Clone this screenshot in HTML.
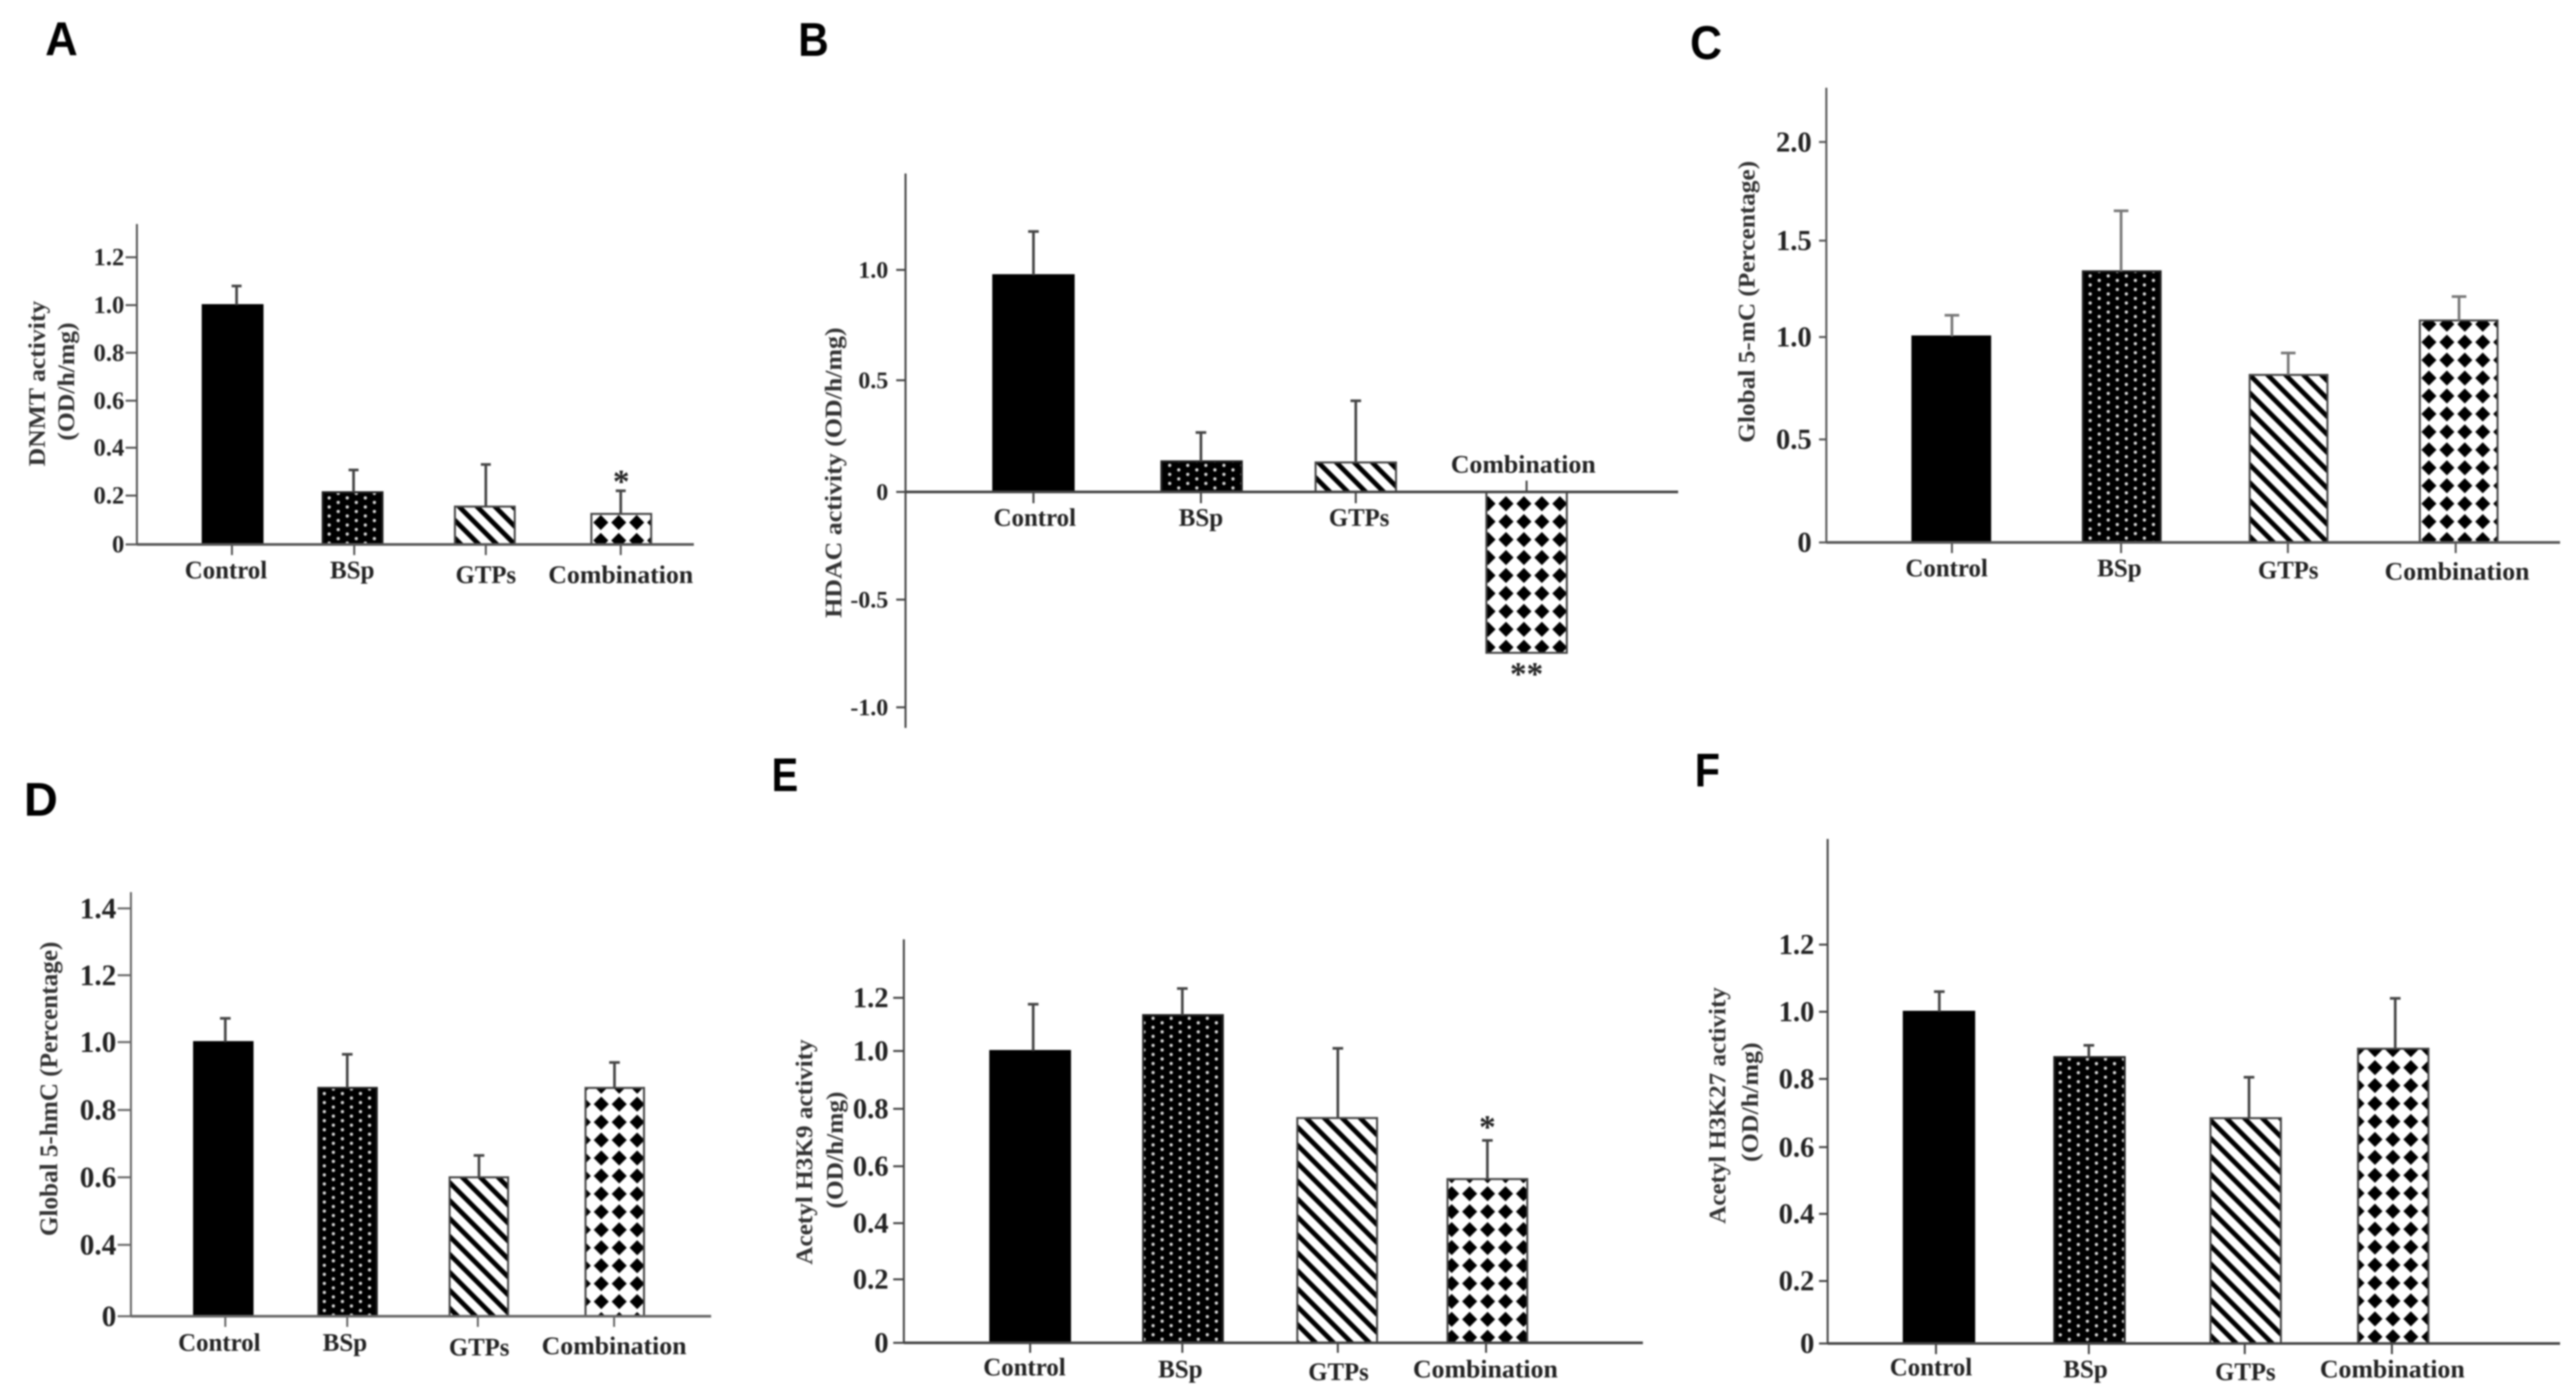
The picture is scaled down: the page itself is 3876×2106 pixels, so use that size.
<!DOCTYPE html>
<html lang="en">
<head>
<meta charset="utf-8">
<title>Epigenetic activity bar charts</title>
<style>
html,body{margin:0;padding:0;background:#fff;width:3876px;height:2106px;overflow:hidden}
#figure{position:absolute;left:0;top:0;filter:blur(1.2px)}
text{font-family:"Liberation Serif",serif;font-weight:bold;fill:#222}
.letter{font-family:"Liberation Sans",sans-serif;font-size:71px;fill:#000}
.ttl{fill:#333}
</style>
</head>
<body>
<svg id="figure" xmlns="http://www.w3.org/2000/svg" width="3876" height="2106" viewBox="0 0 3876 2106">
  <defs id="patterns"></defs>

  <g id="panel-a">
    <text class="letter" x="68" y="83" textLength="49" lengthAdjust="spacingAndGlyphs">A</text>
    <text class="ttl" transform="rotate(-90 67.5 577)" x="67.5" y="577" text-anchor="middle" font-size="36" textLength="249" lengthAdjust="spacingAndGlyphs">DNMT activity</text>
    <text class="ttl" transform="rotate(-90 111.5 574)" x="111.5" y="574" text-anchor="middle" font-size="36" textLength="178" lengthAdjust="spacingAndGlyphs">(OD/h/mg)</text>
  </g>

  <g id="panel-b">
    <text class="letter" x="1201" y="84" textLength="46" lengthAdjust="spacingAndGlyphs">B</text>
    <text class="ttl" transform="rotate(-90 1266 711)" x="1266" y="711" text-anchor="middle" font-size="36" textLength="437" lengthAdjust="spacingAndGlyphs">HDAC activity (OD/h/mg)</text>
  </g>

  <g id="panel-c">
    <text class="letter" x="2543" y="89" textLength="48" lengthAdjust="spacingAndGlyphs">C</text>
    <text class="ttl" transform="rotate(-90 2640 454)" x="2640" y="454" text-anchor="middle" font-size="36" textLength="424" lengthAdjust="spacingAndGlyphs">Global 5-mC (Percentage)</text>
  </g>

  <g id="panel-d">
    <text class="letter" x="36" y="1227" textLength="51" lengthAdjust="spacingAndGlyphs">D</text>
    <text class="ttl" transform="rotate(-90 86 1638)" x="86" y="1638" text-anchor="middle" font-size="38" textLength="443" lengthAdjust="spacingAndGlyphs">Global 5-hmC (Percentage)</text>
  </g>

  <g id="panel-e">
    <text class="letter" x="1161" y="1190" textLength="40" lengthAdjust="spacingAndGlyphs">E</text>
    <text class="ttl" transform="rotate(-90 1222 1733)" x="1222" y="1733" text-anchor="middle" font-size="36" textLength="339" lengthAdjust="spacingAndGlyphs">Acetyl H3K9 activity</text>
    <text class="ttl" transform="rotate(-90 1268 1730)" x="1268" y="1730" text-anchor="middle" font-size="36" textLength="176" lengthAdjust="spacingAndGlyphs">(OD/h/mg)</text>
  </g>

  <g id="panel-f">
    <text class="letter" x="2550" y="1183" textLength="38" lengthAdjust="spacingAndGlyphs">F</text>
    <text class="ttl" transform="rotate(-90 2596 1663)" x="2596" y="1663" text-anchor="middle" font-size="36" textLength="356" lengthAdjust="spacingAndGlyphs">Acetyl H3K27 activity</text>
    <text class="ttl" transform="rotate(-90 2645 1658)" x="2645" y="1658" text-anchor="middle" font-size="36" textLength="180" lengthAdjust="spacingAndGlyphs">(OD/h/mg)</text>
  </g>
</svg>

<script>
// ---------- chart data ----------
const categories = ["Control", "BSp", "GTPs", "Combination"];

const aMeans = [1.0, 0.214, 0.155, 0.125];
const aErrors = [0.08, 0.093, 0.175, 0.095];
const aTicks = [0, 0.2, 0.4, 0.6, 0.8, 1.0, 1.2];
const aTickLabels = ["0", "0.2", "0.4", "0.6", "0.8", "1.0", "1.2"];

const bMeans = [0.976, 0.137, 0.132, -0.747];
const bErrors = [0.198, 0.129, 0.276, 0];
const bTicks = [-1.0, -0.5, 0, 0.5, 1.0];
const bTickLabels = ["-1.0", "-0.5", "0", "0.5", "1.0"];

const cMeans = [1.003, 1.341, 0.815, 1.086];
const cErrors = [0.11, 0.31, 0.107, 0.124];
const cTicks = [0, 0.5, 1.0, 1.5, 2.0];
const cTickLabels = ["0", "0.5", "1.0", "1.5", "2.0"];

const dMeans = [1.0, 0.865, 0.6, 0.865];
const dErrors = [0.071, 0.099, 0.065, 0.075];
const dTicks = [0, 0.4, 0.6, 0.8, 1.0, 1.2, 1.4];
const dTickLabels = ["0", "0.4", "0.6", "0.8", "1.0", "1.2", "1.4"];

const eMeans = [1.0, 1.135, 0.768, 0.555];
const eErrors = [0.176, 0.1, 0.242, 0.135];
const eTicks = [0, 0.2, 0.4, 0.6, 0.8, 1.0, 1.2];
const eTickLabels = ["0", "0.2", "0.4", "0.6", "0.8", "1.0", "1.2"];

const fMeans = [1.0, 0.865, 0.685, 0.89];
const fErrors = [0.06, 0.035, 0.12, 0.15];
const fTicks = [0, 0.2, 0.4, 0.6, 0.8, 1.0, 1.2];
const fTickLabels = ["0", "0.2", "0.4", "0.6", "0.8", "1.0", "1.2"];

// ---------- per-panel axis geometry (calibration, not data) ----------
const labelWidths = [124, 67, 91, 218];
const DOT_PITCH = 13.6;
const HATCH_PITCH = 27;

const panelA = {
  id: "a", means: aMeans, errors: aErrors, ticks: aTicks, tickLabels: aTickLabels,
  axisX: 206, axisTop: 337, axisBottom: 819, axisRight: 1044, baseline: 819, axisColor: "#555",
  tickPx: [819, 745.5, 673.5, 602.7, 530.6, 459, 387], tickLen: 17, tickFont: 37, tickLabelGap: 19,
  barW: 90, barC: [350, 530.5, 729.5, 934.8], whisk: [356, 532, 731, 934],
  whiskColor: "#444", capW: 15,
  catTick: [349, 533, 731, 934], catTickEnd: 835, catUp: [],
  labelX: [340, 530, 731, 934], labelY: [870, 870, 877, 877],
  dotPhase: [495.3, 749], stripePhase: -44.3, diamondPhase: [931, 813],
  star: { text: "*", index: 3, dy: 2 }
};
const panelB = {
  id: "b", means: bMeans, errors: bErrors, ticks: bTicks, tickLabels: bTickLabels,
  axisX: 1362.5, axisTop: 261, axisBottom: 1095, axisRight: 2525, baseline: 740, axisColor: "#444",
  tickPx: [1064, 902, 740, 572, 406], tickLen: 14, tickFont: 36, tickLabelGap: 26,
  barW: 121, barC: [1555, 1808, 2040, 2297], whisk: [1555, 1807, 2040, 2297],
  whiskColor: "#444", capW: 16,
  catTick: [1555, 1807, 2040, 2297], catTickEnd: 757, catUp: [3],
  labelX: [1557, 1807, 2045, 2292], labelY: [791, 791, 791, 711],
  dotPhase: [1760, 700], stripePhase: 1342, diamondPhase: [2293, 757.7],
  star: { text: "**", index: 3, dy: 48 }
};
const panelC = {
  id: "c", means: cMeans, errors: cErrors, ticks: cTicks, tickLabels: cTickLabels,
  axisX: 2748, axisTop: 132, axisBottom: 816, axisRight: 3852, baseline: 816, axisColor: "#555",
  tickPx: [816, 661, 507, 362, 213.6], tickLen: 11, tickFont: 43, tickLabelGap: 22,
  barW: 117, barC: [2936, 3192.5, 3443.5, 3699.5], whisk: [2937, 3191.5, 3443, 3700],
  whiskColor: "#777", capW: 22,
  catTick: [2937, 3191.5, 3442.5, 3695], catTickEnd: 832, catUp: [],
  labelX: [2929, 3189, 3443, 3697], labelY: [867, 867, 870, 872],
  dotPhase: [3145, 415], stripePhase: 2875, diamondPhase: [3681.7, 811.7]
};
const panelD = {
  id: "d", means: dMeans, errors: dErrors, ticks: dTicks, tickLabels: dTickLabels,
  axisX: 197, axisTop: 1342, axisBottom: 1980, axisRight: 1070, baseline: 1980, axisColor: "#666",
  tickPx: [1980, 1872.6, 1771, 1669.7, 1567.6, 1467, 1366.5], tickLen: 20, tickFont: 44, tickLabelGap: 22,
  barW: 88, barC: [336, 523, 720.5, 925], whisk: [339, 522.5, 720.7, 924.6],
  whiskColor: "#444", capW: 16,
  catTick: [339, 522.5, 719, 924], catTickEnd: 1996, catUp: [],
  labelX: [330, 519, 721, 924], labelY: [2032, 2032, 2039, 2037],
  dotPhase: [488, 1645], stripePhase: -1048.4, diamondPhase: [931.7, 1958]
};
const panelE = {
  id: "e", means: eMeans, errors: eErrors, ticks: eTicks, tickLabels: eTickLabels,
  axisX: 1360, axisTop: 1413, axisBottom: 2020, axisRight: 2472, baseline: 2020, axisColor: "#444",
  tickPx: [2020, 1924.5, 1840, 1754.4, 1668, 1581, 1501], tickLen: 16, tickFont: 43, tickLabelGap: 23,
  barW: 120, barC: [1550, 1780, 2012, 2238], whisk: [1554.6, 1779, 2013, 2238],
  whiskColor: "#444", capW: 16,
  catTick: [1550, 1779, 2013, 2236], catTickEnd: 2035, catUp: [],
  labelX: [1541.5, 1776, 2014, 2235], labelY: [2069, 2072, 2076, 2072],
  dotPhase: [1735, 1559], stripePhase: 283.7, diamondPhase: [2238.3, 2011.7],
  star: { text: "*", index: 3, dy: -4 }
};
const panelF = {
  id: "f", means: fMeans, errors: fErrors, ticks: fTicks, tickLabels: fTickLabels,
  axisX: 2750, axisTop: 1262, axisBottom: 2021, axisRight: 3852, baseline: 2021, axisColor: "#444",
  tickPx: [2021, 1927, 1826, 1725.6, 1623, 1522, 1421], tickLen: 13, tickFont: 43, tickLabelGap: 20,
  barW: 106, barC: [2917.5, 3144, 3379, 3601], whisk: [2918, 3143, 3384, 3604],
  whiskColor: "#444", capW: 16,
  catTick: [2913, 3143, 3377.6, 3599], catTickEnd: 2037, catUp: [],
  labelX: [2905.5, 3138, 3378.5, 3599.6], labelY: [2069, 2072, 2076, 2072],
  dotPhase: [3100, 1600], stripePhase: 1695, diamondPhase: [3600.5, 2011]
};
const panels = [panelA, panelB, panelC, panelD, panelE, panelF];

// ---------- helpers ----------
const NS = "http://www.w3.org/2000/svg";
function mk(tag, attrs, parent) {
  const el = document.createElementNS(NS, tag);
  for (const k in attrs) el.setAttribute(k, attrs[k]);
  parent.appendChild(el);
  return el;
}

// Piecewise-linear value axis built from a panel's tick values.
function yScale(p, v) {
  const t = p.ticks, r = p.tickPx;
  let i = 0;
  while (i < t.length - 2 && v > t[i + 1]) i++;
  return r[i] + (v - t[i]) * (r[i + 1] - r[i]) / (t[i + 1] - t[i]);
}
// Category axis: centre of category i for a given mark layer.
function xScale(p, layer, i) { return p[layer][i]; }

function addPatterns(p) {
  const defs = document.getElementById("patterns");
  // dotted fill: staggered lattice
  const d = DOT_PITCH;
  const dots = mk("pattern", { id: "dots-" + p.id, width: d * 2, height: d, patternUnits: "userSpaceOnUse", x: p.dotPhase[0] - d / 2, y: p.dotPhase[1] - d / 4 }, defs);
  mk("rect", { width: d * 2, height: d, fill: "#000" }, dots);
  mk("circle", { cx: d * 0.5, cy: d * 0.25, r: 2.5, fill: "#d8d8d8" }, dots);
  mk("circle", { cx: d * 1.5, cy: d * 0.75, r: 2.5, fill: "#d8d8d8" }, dots);
  // diagonal stripes running from upper-left to lower-right
  const s = HATCH_PITCH * Math.SQRT1_2;
  const w = s * 0.38;
  const stripes = mk("pattern", { id: "stripes-" + p.id, x: -w / 2, y: 0, width: s, height: s, patternUnits: "userSpaceOnUse", patternTransform: "translate(" + p.stripePhase + " 0) rotate(-45)" }, defs);
  mk("rect", { width: s, height: s, fill: "#fff" }, stripes);
  mk("rect", { width: w, height: s, fill: "#000" }, stripes);
  // diamonds
  const q = HATCH_PITCH;
  const dia = mk("pattern", { id: "diamonds-" + p.id, width: q, height: q, patternUnits: "userSpaceOnUse", x: p.diamondPhase[0] - q / 2, y: p.diamondPhase[1] - q / 2 }, defs);
  mk("rect", { width: q, height: q, fill: "#fff" }, dia);
  mk("polygon", { points: [q / 2, q * 0.08, q * 0.92, q / 2, q / 2, q * 0.92, q * 0.08, q / 2].join(","), fill: "#000" }, dia);
}

function drawPanel(p) {
  const g = document.getElementById("panel-" + p.id);
  addPatterns(p);
  const fills = ["#000", "url(#dots-" + p.id + ")", "url(#stripes-" + p.id + ")", "url(#diamonds-" + p.id + ")"];
  const y0 = yScale(p, 0);

  // bars
  categories.forEach(function (cat, i) {
    const v = p.means[i];
    const yv = yScale(p, v);
    const top = Math.min(yv, y0), h = Math.abs(yv - y0);
    const bar = mk("rect", {
      x: xScale(p, "barC", i) - p.barW / 2, y: top, width: p.barW, height: h,
      fill: fills[i], stroke: i === 0 ? "#000" : (i === 1 ? "#222" : "#444"), "stroke-width": 3
    }, g);
    
    

    // error bar
    if (p.errors[i] > 0) {
      const wx = xScale(p, "whisk", i);
      const yTop = yScale(p, v + p.errors[i]);
      const stem = mk("line", { x1: wx, x2: wx, y1: yv, y2: yTop, stroke: p.whiskColor, "stroke-width": 4 }, g);
      
      
      const cap = mk("line", { x1: wx - p.capW / 2, x2: wx + p.capW / 2, y1: yTop, y2: yTop, stroke: p.whiskColor, "stroke-width": 4 }, g);
      
      
    }
  });

  // axes
  const yAxis = mk("line", { x1: p.axisX, x2: p.axisX, y1: p.axisTop, y2: p.axisBottom, stroke: p.axisColor, "stroke-width": 3 }, g);
  
  
  const xAxis = mk("line", { x1: p.axisX, x2: p.axisRight, y1: p.baseline, y2: p.baseline, stroke: p.axisColor, "stroke-width": 4 }, g);
  
  

  // y ticks
  p.ticks.forEach(function (t, i) {
    const yt = yScale(p, t);
    const tick = mk("line", { x1: p.axisX - p.tickLen, x2: p.axisX, y1: yt, y2: yt, stroke: p.axisColor, "stroke-width": 3 }, g);
    
    
    const lab = mk("text", { x: p.axisX - p.tickLabelGap, y: yt + p.tickFont * 0.33, "text-anchor": "end", "font-size": p.tickFont }, g);
    lab.textContent = p.tickLabels[i];
    
    
  });

  // category ticks and labels
  categories.forEach(function (cat, i) {
    const tx = xScale(p, "catTick", i);
    const up = p.catUp.indexOf(i) >= 0;
    const end = up ? p.baseline - (p.catTickEnd - p.baseline) : p.catTickEnd;
    const tick = mk("line", { x1: tx, x2: tx, y1: p.baseline, y2: end, stroke: p.axisColor, "stroke-width": 3 }, g);
    
    
    const lab = mk("text", {
      x: xScale(p, "labelX", i), y: p.labelY[i], "text-anchor": "middle", "font-size": 38,
      textLength: labelWidths[i], lengthAdjust: "spacingAndGlyphs"
    }, g);
    lab.textContent = cat;
    
    
  });

  // significance marker
  if (p.star) {
    const k = p.star.index;
    const v = p.means[k];
    const anchor = p.errors[k] > 0 ? yScale(p, v + p.errors[k]) : yScale(p, v);
    const st = mk("text", { x: xScale(p, "barC", k), y: anchor + p.star.dy, "text-anchor": "middle", "font-size": 50 }, g);
    st.textContent = p.star.text;
    
    
  }
}

panels.forEach(drawPanel);
</script>
</body>
</html>
